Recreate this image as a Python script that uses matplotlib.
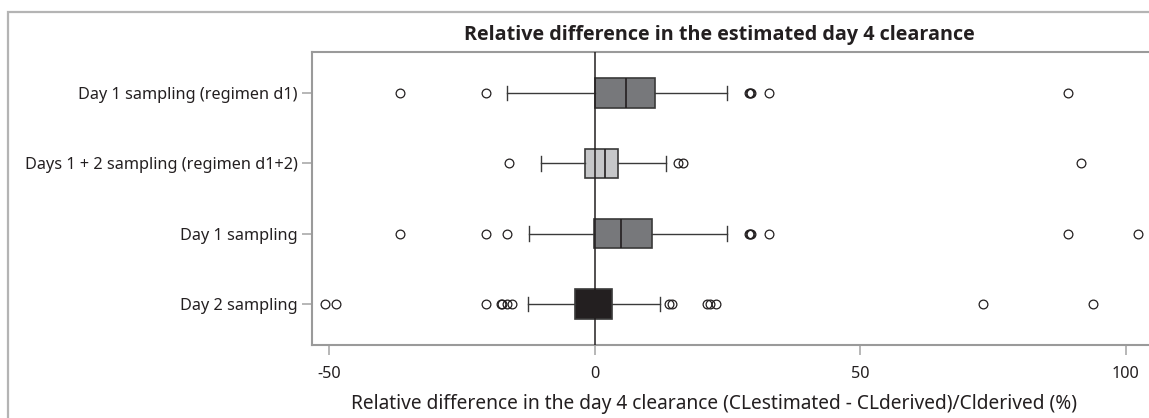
import matplotlib
matplotlib.use("Agg")
from matplotlib import pyplot as plt
from matplotlib.patches import Rectangle

plt.rcParams['font.family'] = ['Noto Sans', 'DejaVu Sans']
plt.rcParams['axes.unicode_minus'] = False

# rows from bottom to top
labels = ["Day 2 sampling", "Day 1 sampling",
          "Days 1 + 2 sampling (regimen d1+2)", "Day 1 sampling (regimen d1)"]
q1 = [-3.8, -0.1, -1.8, 0.0]
med = [0.0, 5.0, 1.9, 5.8]
q3 = [3.2, 10.7, 4.45, 11.4]
whislo = [-12.5, -12.4, -10.2, -16.5]
whishi = [12.35, 24.9, 13.4, 24.9]
fliers = [
  [-50.8, -48.7, -20.4, -17.7, -17.4, -16.5, -15.5, 13.9, 14.5, 21.1, 21.8, 22.8, 73.1, 93.8],
  [-36.7, -20.5, -16.5, 29.0, 29.2, 29.4, 32.8, 89.1, 102.3],
  [-16.2, 15.6, 16.7, 91.5],
  [-36.7, -20.5, 29.0, 29.2, 29.4, 32.8, 89.1],
]
box_colors = ["#231f20", "#77787b", "#c6c7c9", "#77787b"]

W, H = 1149, 418
fig = plt.figure(figsize=(W / 100, H / 100), dpi=100)

# outer frame (cropped on right and bottom)
fig.add_artist(Rectangle((8 / W, -0.2), 1.2, (H - 12) / H + 0.2, transform=fig.transFigure,
                         fill=False, edgecolor="#b4b4b4", lw=1.6, clip_on=False))

left, right = 311.7, 1200
top, bottom = 52.3, 344.7
ax = fig.add_axes([left / W, (H - bottom) / H, (right - left) / W, (bottom - top) / H])

stats = []
for i in range(len(labels)):
  stats.append(dict(med=med[i], q1=q1[i], q3=q3[i], whislo=whislo[i],
                    whishi=whishi[i], fliers=fliers[i], label=labels[i]))

bp = ax.bxp(stats, positions=[1, 2, 3, 4], vert=False, widths=0.42, patch_artist=True,
            capwidths=0.21,
            boxprops=dict(edgecolor="#3a3a3a", linewidth=1.2),
            whiskerprops=dict(color="#3a3a3a", linewidth=1.0),
            capprops=dict(color="#3a3a3a", linewidth=1.0),
            medianprops=dict(color="#231f20", linewidth=1.2),
            flierprops=dict(marker="o", markersize=6.3, markerfacecolor="none",
                            markeredgecolor="#231f20", markeredgewidth=0.9))
for patch, c in zip(bp['boxes'], box_colors):
  patch.set_facecolor(c)

ax.axvline(0, color="#231f20", lw=1.1, zorder=5)

# 5.31 px per unit, 0 at x=594.7
ax.set_xlim(-53.3, (right - 594.7) / 5.31)
ax.set_ylim(0.421, 4.579)
ax.set_xticks([-50, 0, 50, 100])
ax.tick_params(axis='both', colors="#aaaaaa", labelcolor="#231f20", labelsize=11.7, length=7, width=1.2)
ax.tick_params(axis='x', pad=8)
ax.tick_params(axis='y', pad=3)
for s in ['left', 'bottom', 'top']:
  ax.spines[s].set_color("#9a9a9a")
  ax.spines[s].set_linewidth(1.5)
ax.spines['right'].set_visible(False)

fig.text(719 / W, 1 - 35 / H, "Relative difference in the estimated day 4 clearance",
         ha='center', va='center', fontsize=14.2, fontweight='bold', color="#231f20",
         family=['Open Sans', 'DejaVu Sans'])
fig.text(714 / W, 1 - 404 / H,
         "Relative difference in the day 4 clearance (CLestimated - CLderived)/Clderived (%)",
         ha='center', va='center', fontsize=13.8, color="#231f20")

fig.savefig("out.png", dpi=100)
